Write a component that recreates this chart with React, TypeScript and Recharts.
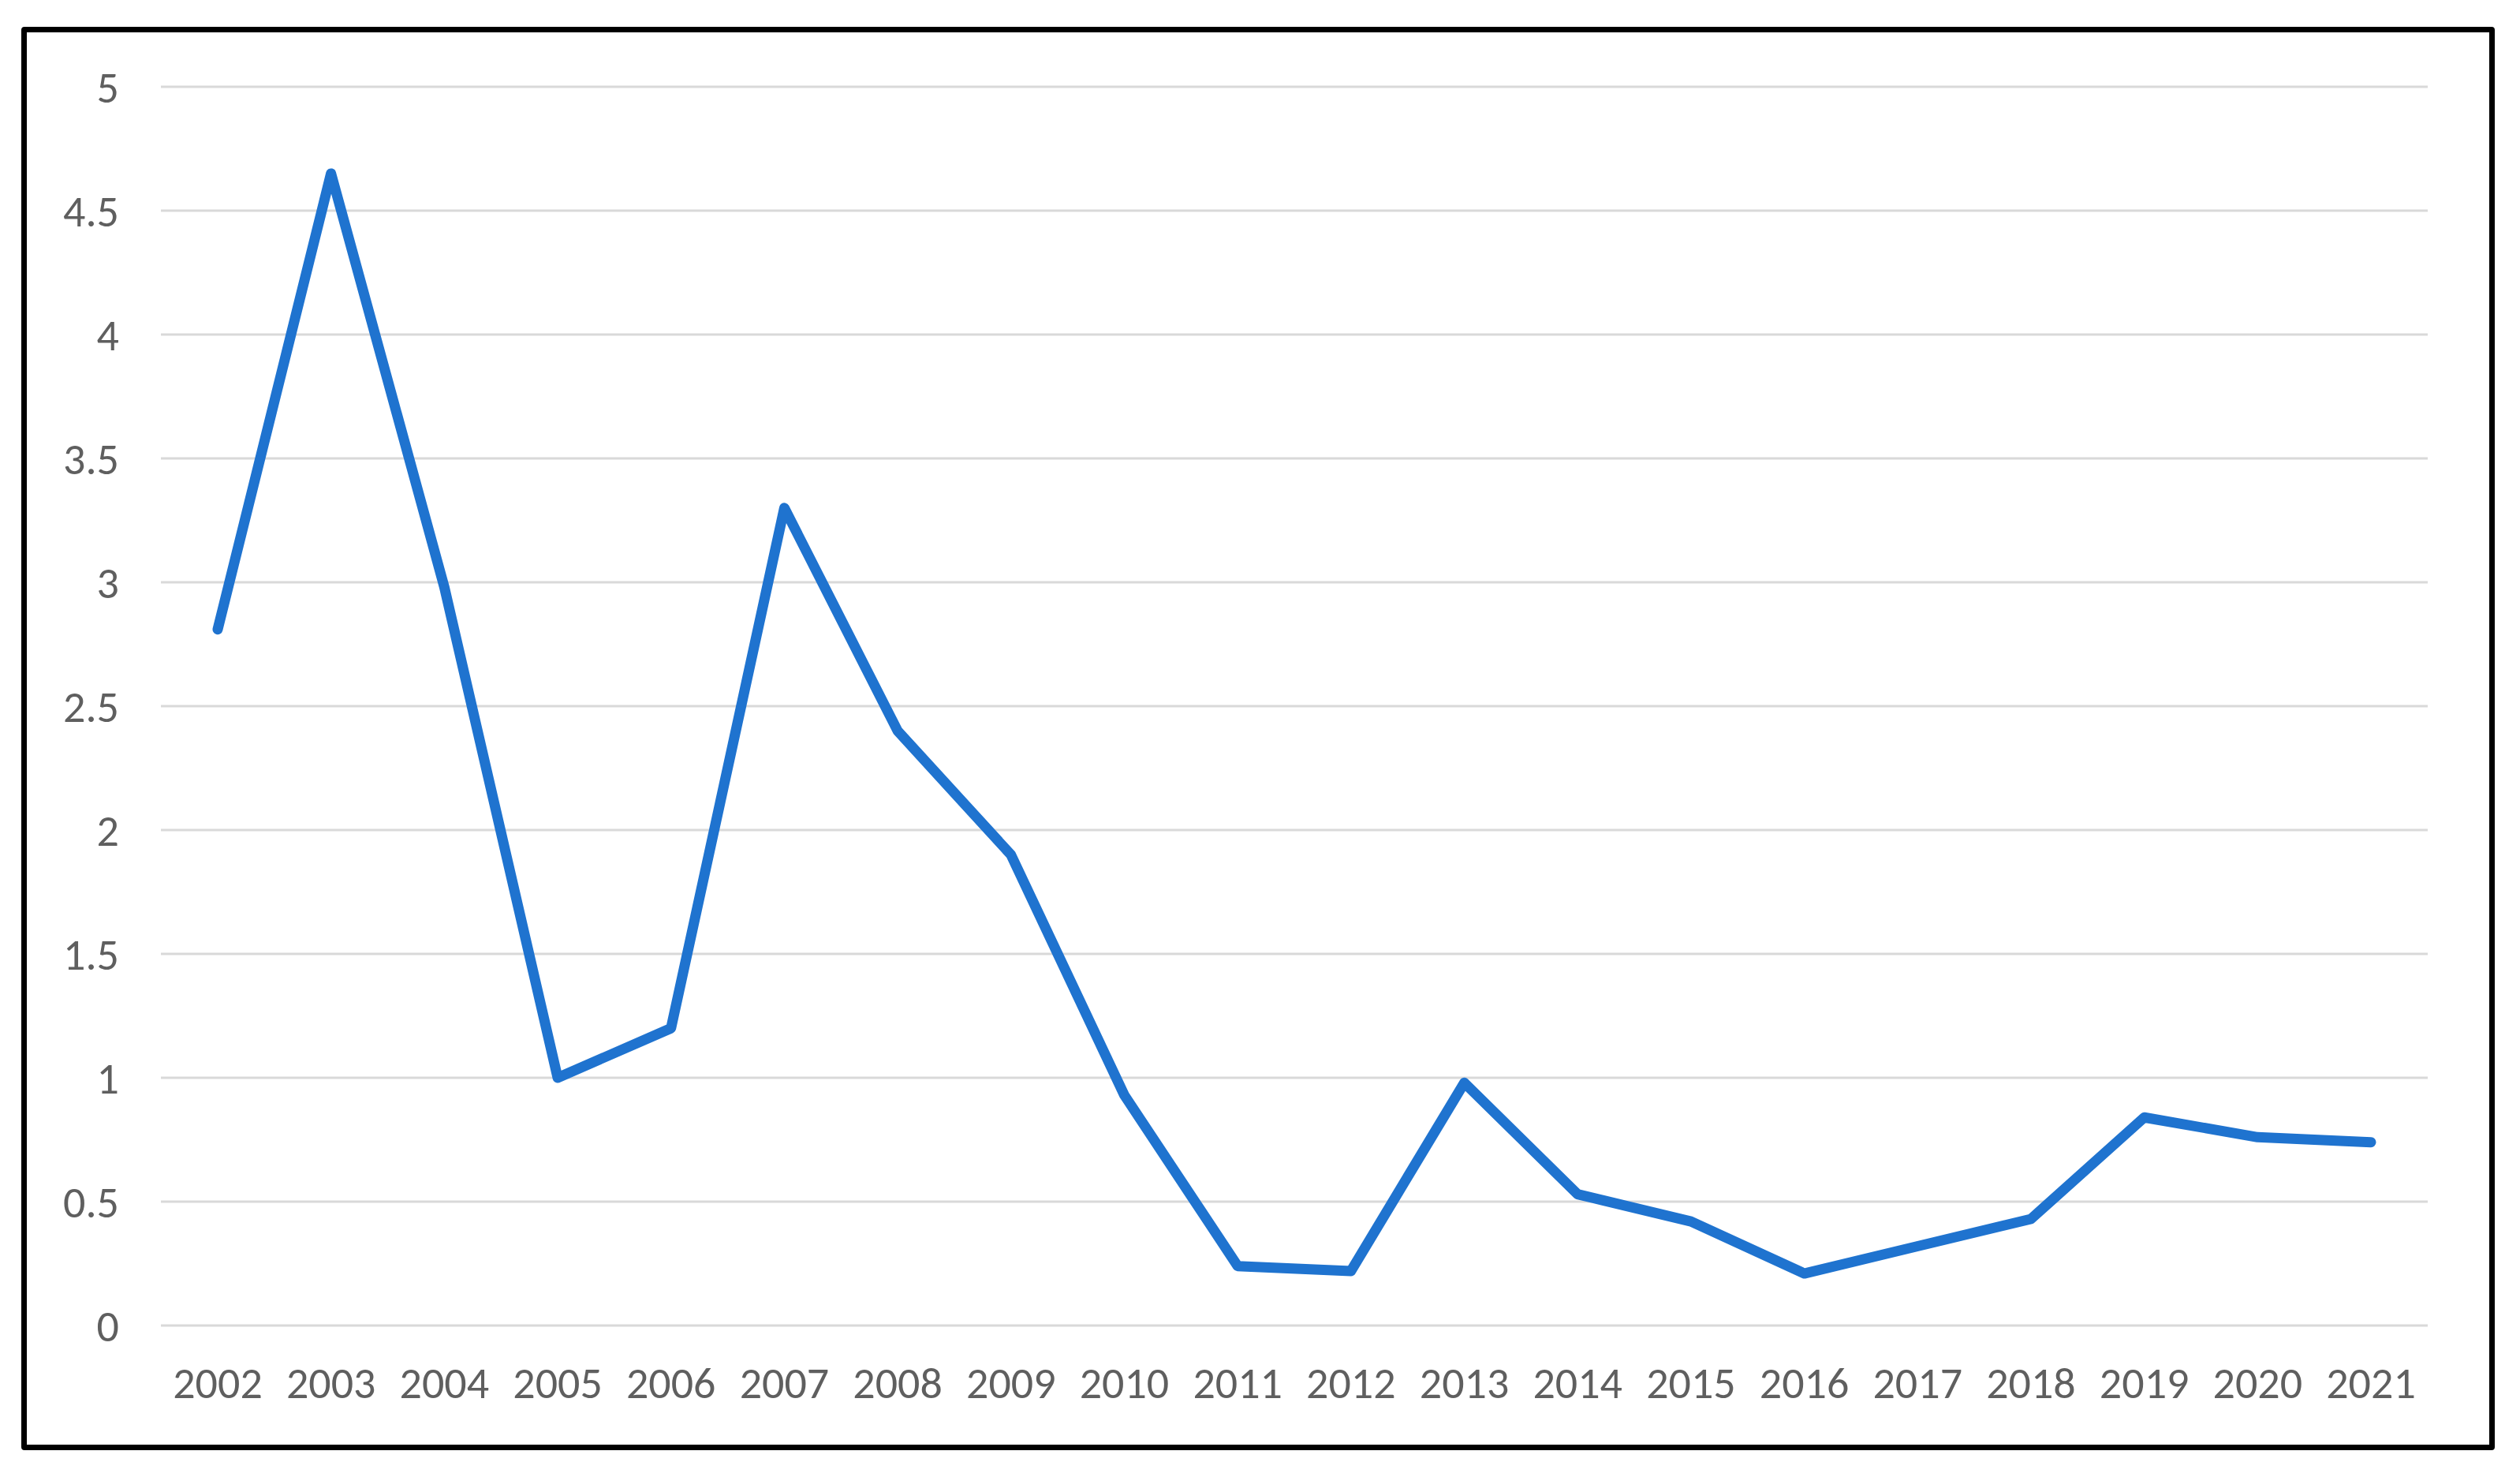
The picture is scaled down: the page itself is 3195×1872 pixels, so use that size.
import React from 'react';
import { LineChart, Line, XAxis, YAxis, CartesianGrid } from 'recharts';

const years = [
  '2002', '2003', '2004', '2005', '2006', '2007', '2008', '2009', '2010', '2011',
  '2012', '2013', '2014', '2015', '2016', '2017', '2018', '2019', '2020', '2021',
];
const values = [
  2.81, 4.65, 2.98, 1.0, 1.2, 3.3, 2.4, 1.9, 0.93, 0.24,
  0.22, 0.98, 0.53, 0.42, 0.21, 0.32, 0.43, 0.84, 0.76, 0.74,
];
const yTicks = [0, 0.5, 1, 1.5, 2, 2.5, 3, 3.5, 4, 4.5, 5];

const data = years.map((year, i) => ({ year, value: values[i] }));

const font = "Calibri, Carlito, 'DejaVu Sans Condensed', Lato, 'Open Sans', sans-serif";
const tick = { fill: '#5f5f5f', fontSize: 56, fontFamily: font };

export default function App() {
  return (
    <div
      style={{
        position: 'absolute',
        left: 0,
        top: 0,
        width: 3195,
        height: 1872,
        background: '#fff',
      }}
    >
      <div
        style={{
          position: 'absolute',
          left: 27,
          top: 34,
          width: 3136,
          height: 1804,
          border: '7px solid #000',
          borderRadius: 4,
          boxSizing: 'border-box',
        }}
      />
      <div style={{ position: 'absolute', left: 0, top: 0 }}>
        <LineChart
          width={3195}
          height={1872}
          data={data}
          margin={{ top: 110, right: 117, bottom: 92, left: 104 }}
        >
          <CartesianGrid vertical={false} stroke="#d9d9d9" strokeWidth={3} />
          <XAxis
            dataKey="year"
            axisLine={false}
            tickLine={false}
            tickSize={0}
            tickMargin={52}
            height={100}
            interval={0}
            padding={{ left: 72, right: 72 }}
            tick={tick}
          />
          <YAxis
            domain={[0, 5]}
            ticks={yTicks}
            axisLine={false}
            tickLine={false}
            tickSize={0}
            tickMargin={53}
            width={100}
            tick={tick}
          />
          <Line
            type="linear"
            dataKey="value"
            stroke="#1f73cf"
            strokeWidth={13}
            strokeLinejoin="round"
            strokeLinecap="round"
            dot={false}
            activeDot={false}
            isAnimationActive={false}
          />
        </LineChart>
      </div>
    </div>
  );
}
